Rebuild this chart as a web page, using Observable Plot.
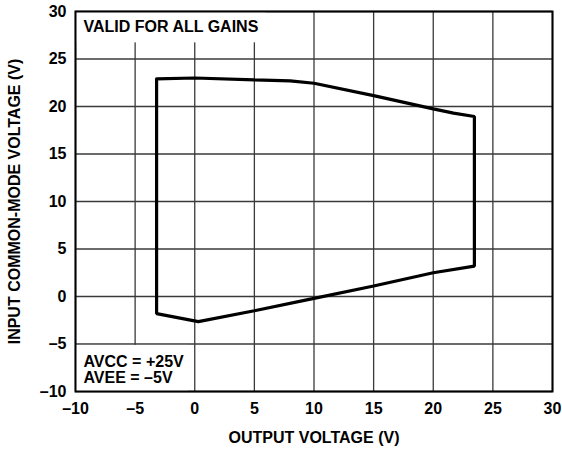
<!DOCTYPE html>
<html>
<head>
<meta charset="utf-8">
<script src="https://cdn.jsdelivr.net/npm/d3@7"></script>
<script src="https://cdn.jsdelivr.net/npm/@observablehq/plot@0.6"></script>
<style>
  html, body { margin: 0; padding: 0; background: #fff; }
  #chart svg { display: block; }
</style>
</head>
<body>
<div id="chart"></div>
<script>
// Boundary of the valid operating region (output voltage vs input common-mode voltage)
const outputVoltage = [-3.2, 0, 5, 8, 10, 15, 20, 21.7, 23.45, 23.45, 20, 15, 10, 5, 0.3, -3.2, -3.2];
const commonModeVoltage = [22.9, 23.0, 22.8, 22.7, 22.45, 21.15, 19.75, 19.3, 18.95, 3.2, 2.5, 1.1, -0.2, -1.5, -2.65, -1.8, 22.9];

const xTicks = [-10, -5, 0, 5, 10, 15, 20, 25, 30];
const yTicks = [-10, -5, 0, 5, 10, 15, 20, 25, 30];

const topNote = "VALID FOR ALL GAINS";
const bottomNote = "AVCC = +25V\nAVEE = \u20135V";
const xTitle = "OUTPUT VOLTAGE (V)";
const yTitle = "INPUT COMMON-MODE VOLTAGE (V)";

// white boxes behind the notes (data units)
const noteBoxes = [
  {x1: -10, x2: 6, y1: 26.7, y2: 30},
  {x1: -10, x2: -0.5, y1: -10, y2: -5.15}
];

const boundary = outputVoltage.map((x, i) => ({x, y: commonModeVoltage[i]}));
const fmt = d => d < 0 ? "\u2013" + Math.abs(d) : String(d);
const FS = 16;

const chart = Plot.plot({
  width: 562,
  height: 449,
  marginLeft: 75,
  marginRight: 10,
  marginTop: 11,
  marginBottom: 58,
  style: {fontFamily: "'Liberation Sans', Arial, sans-serif", fontWeight: "bold", fontSize: FS + "px", color: "#000", background: "#fff"},
  x: {domain: [-10, 30]},
  y: {domain: [-10, 30]},
  marks: [
    Plot.gridX(xTicks, {stroke: "#3a3a3a", strokeOpacity: 1, strokeWidth: 1.3}),
    Plot.gridY(yTicks, {stroke: "#3a3a3a", strokeOpacity: 1, strokeWidth: 1.3}),
    Plot.rect(noteBoxes, {x1: "x1", x2: "x2", y1: "y1", y2: "y2", fill: "white"}),
    Plot.frame({stroke: "#000", strokeWidth: 2}),
    Plot.line(boundary, {x: "x", y: "y", stroke: "#000", strokeWidth: 3.2, strokeLinejoin: "miter"}),
    Plot.axisX({ticks: xTicks, tickFormat: fmt, tickSize: 0, tickPadding: 11, label: null, fontSize: FS, fontWeight: "bold"}),
    Plot.axisY({ticks: yTicks, tickFormat: fmt, tickSize: 0, tickPadding: 9, label: null, fontSize: FS, fontWeight: "bold"}),
    Plot.text([xTitle], {frameAnchor: "bottom", dy: 46, lineAnchor: "middle", textAnchor: "middle", fontSize: FS, fontWeight: "bold", fill: "#000"}),
    Plot.text([yTitle], {frameAnchor: "left", dx: -61, rotate: -90, lineAnchor: "middle", textAnchor: "middle", fontSize: FS, fontWeight: "bold", fill: "#000"}),
    Plot.text([topNote], {frameAnchor: "top-left", dx: 8, dy: 15, textAnchor: "start", lineAnchor: "middle", fontSize: FS, fontWeight: "bold", fill: "#000"}),
    Plot.text([bottomNote], {frameAnchor: "bottom-left", dx: 8, dy: -9, textAnchor: "start", lineAnchor: "bottom", fontSize: FS, fontWeight: "bold", fill: "#000", lineHeight: 1.0})
  ]
});
document.getElementById("chart").appendChild(chart);
</script>
</body>
</html>
